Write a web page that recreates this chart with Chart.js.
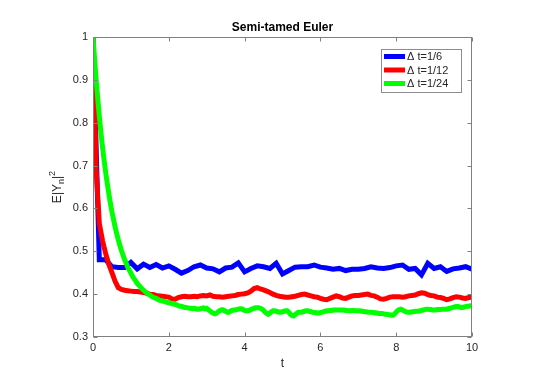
<!DOCTYPE html>
<html>
<head>
<meta charset="utf-8">
<script src="https://cdn.jsdelivr.net/npm/chart.js@4/dist/chart.umd.min.js"></script>
<style>
  body { margin: 0; background: #ffffff; }
  canvas { display: block; }
</style>
</head>
<body>
<canvas id="eulerChart" width="548" height="387"></canvas>
<script>
// series labels, time steps and colours
const seriesLabels = ["\u0394 t=1/6", "\u0394 t=1/12", "\u0394 t=1/24"];
const stepSizes = [1 / 6, 1 / 12, 1 / 24];
const seriesColors = ["#0000ff", "#ff0000", "#00ff00"];

// tick labels
const xTicks = [0, 2, 4, 6, 8, 10];
const yTicks = [0.3, 0.4, 0.5, 0.6, 0.7, 0.8, 0.9, 1];

// E|Y_n|^2, one value per time step
const blueValues = [
    1.0, 0.48, 0.48, 0.464, 0.462, 0.462,
    0.474, 0.459, 0.470, 0.462, 0.469, 0.461,
    0.466, 0.458, 0.449, 0.455, 0.464, 0.468,
    0.461, 0.459, 0.452, 0.461, 0.463, 0.473,
    0.452, 0.460, 0.466, 0.464, 0.460, 0.472,
    0.447, 0.455, 0.463, 0.464, 0.464, 0.468,
    0.463, 0.461, 0.458, 0.460, 0.455, 0.458,
    0.458, 0.460, 0.464, 0.461, 0.460, 0.462,
    0.466, 0.468, 0.458, 0.460, 0.445, 0.472,
    0.460, 0.464, 0.453, 0.459, 0.461, 0.464,
    0.458
];

const redValues = [
    1.0, 0.69, 0.565, 0.525, 0.495, 0.47, 0.45, 0.43, 0.415, 0.411, 0.409, 0.408,
    0.407, 0.406, 0.406, 0.405, 0.404, 0.402, 0.400, 0.399, 0.397, 0.396, 0.395, 0.394,
    0.393, 0.389, 0.388, 0.392, 0.394, 0.395, 0.394, 0.394, 0.395, 0.394, 0.396, 0.397,
    0.396, 0.398, 0.395, 0.394, 0.394, 0.393, 0.394, 0.395, 0.396, 0.397, 0.399, 0.400,
    0.401, 0.403, 0.407, 0.413, 0.415, 0.412, 0.410, 0.407, 0.404, 0.400, 0.397, 0.395,
    0.394, 0.393, 0.393, 0.394, 0.395, 0.397, 0.399, 0.400, 0.398, 0.396, 0.394, 0.393,
    0.390, 0.388, 0.387, 0.390, 0.393, 0.396, 0.394, 0.391, 0.390, 0.393, 0.396, 0.397,
    0.397, 0.398, 0.399, 0.400, 0.397, 0.396, 0.393, 0.389, 0.388, 0.390, 0.393, 0.394,
    0.394, 0.394, 0.393, 0.394, 0.396, 0.397, 0.398, 0.401, 0.403, 0.402, 0.399, 0.397,
    0.396, 0.393, 0.392, 0.390, 0.387, 0.389, 0.392, 0.394, 0.393, 0.391, 0.390, 0.392,
    0.393
];

const greenValues = [
    1.000, 0.948, 0.900, 0.856, 0.815, 0.778, 0.744, 0.713, 0.685, 0.659, 0.635, 0.612,
    0.592, 0.574, 0.557, 0.541, 0.527, 0.514, 0.502, 0.491, 0.481, 0.472, 0.463, 0.456,
    0.449, 0.442, 0.436, 0.431, 0.425, 0.421, 0.417, 0.413, 0.409, 0.406, 0.403, 0.400,
    0.398, 0.395, 0.393, 0.391, 0.390, 0.388, 0.386, 0.385, 0.384, 0.383, 0.382, 0.381,
    0.380, 0.379, 0.378, 0.377, 0.376, 0.375, 0.373, 0.372, 0.372, 0.370, 0.369, 0.369,
    0.368, 0.367, 0.367, 0.366, 0.367, 0.366, 0.365, 0.365, 0.366, 0.367, 0.368, 0.366,
    0.367, 0.364, 0.361, 0.358, 0.356, 0.354, 0.355, 0.358, 0.361, 0.363, 0.364, 0.362,
    0.360, 0.358, 0.358, 0.360, 0.362, 0.363, 0.363, 0.364, 0.365, 0.366, 0.366, 0.364,
    0.362, 0.361, 0.361, 0.362, 0.364, 0.366, 0.367, 0.368, 0.368, 0.368, 0.367, 0.365,
    0.362, 0.358, 0.355, 0.353, 0.356, 0.359, 0.361, 0.361, 0.360, 0.359, 0.358, 0.358,
    0.359, 0.360, 0.361, 0.361, 0.358, 0.353, 0.350, 0.349, 0.352, 0.355, 0.358, 0.358,
    0.358, 0.359, 0.360, 0.361, 0.361, 0.360, 0.359, 0.358, 0.357, 0.357, 0.356, 0.356,
    0.357, 0.358, 0.359, 0.360, 0.361, 0.361, 0.362, 0.362, 0.363, 0.363, 0.363, 0.363,
    0.363, 0.363, 0.363, 0.363, 0.362, 0.362, 0.361, 0.361, 0.362, 0.362, 0.361, 0.361,
    0.361, 0.361, 0.360, 0.360, 0.359, 0.359, 0.358, 0.358, 0.358, 0.357, 0.357, 0.356,
    0.356, 0.355, 0.355, 0.355, 0.354, 0.353, 0.353, 0.352, 0.352, 0.351, 0.351, 0.354,
    0.358, 0.362, 0.364, 0.365, 0.363, 0.361, 0.359, 0.358, 0.358, 0.358, 0.359, 0.359,
    0.360, 0.360, 0.360, 0.361, 0.362, 0.363, 0.364, 0.365, 0.365, 0.364, 0.364, 0.363,
    0.363, 0.363, 0.364, 0.364, 0.364, 0.365, 0.365, 0.365, 0.365, 0.366, 0.367, 0.368,
    0.369, 0.370, 0.371, 0.371, 0.370, 0.369, 0.369, 0.370, 0.371, 0.372, 0.372, 0.373,
    0.373
];

const allValues = [blueValues, redValues, greenValues];

const FONT = '"Liberation Sans", Arial, Helvetica, sans-serif';
const AXIS_GRAY = "#808080";
const TEXT_COLOR = "#262626";

// pair each value with its time t = i * dt
function toPoints(values, dt) {
    return values.map((v, i) => ({ x: i * dt, y: v }));
}

// MATLAB-like frame: box, inward ticks, title, axis labels, legend
const matlabFrame = {
    id: "matlabFrame",
    afterDraw(chart) {
        const ctx = chart.ctx;
        const area = chart.chartArea;
        const xs = chart.scales.x;
        const ys = chart.scales.y;
        const L = Math.round(area.left) + 0.5;
        const R = Math.round(area.right) - 0.5;
        const T = Math.round(area.top) + 0.5;
        const B = Math.round(area.bottom) - 0.5;
        const tick = 4;

        ctx.save();
        ctx.strokeStyle = AXIS_GRAY;
        ctx.lineWidth = 1;
        ctx.strokeRect(L, T, R - L, B - T);

        ctx.beginPath();
        xTicks.forEach(t => {
            const px = Math.round(xs.getPixelForValue(t)) + 0.5;
            ctx.moveTo(px, B); ctx.lineTo(px, B - tick);
            ctx.moveTo(px, T); ctx.lineTo(px, T + tick);
        });
        yTicks.forEach(v => {
            const py = Math.round(ys.getPixelForValue(v)) + 0.5;
            ctx.moveTo(L, py); ctx.lineTo(L + tick, py);
            ctx.moveTo(R, py); ctx.lineTo(R - tick, py);
        });
        ctx.stroke();

        // title
        ctx.fillStyle = "#000000";
        ctx.font = "bold 12px " + FONT;
        ctx.textAlign = "center";
        ctx.textBaseline = "middle";
        ctx.fillText("Semi-tamed Euler", (area.left + area.right) / 2, 28);

        // x label
        ctx.fillStyle = TEXT_COLOR;
        ctx.font = "12px " + FONT;
        ctx.fillText("t", (area.left + area.right) / 2, 364);

        // y label E|Y_n|^2, rotated
        ctx.save();
        ctx.translate(61, (area.top + area.bottom) / 2);
        ctx.rotate(-Math.PI / 2);
        ctx.textAlign = "left";
        ctx.textBaseline = "alphabetic";
        const parts = [
            { s: "E|Y", size: 12, dy: 0 },
            { s: "n", size: 9, dy: 3 },
            { s: "|", size: 12, dy: 0 },
            { s: "2", size: 9, dy: -6 }
        ];
        let total = 0;
        parts.forEach(p => {
            ctx.font = p.size + "px " + FONT;
            p.w = ctx.measureText(p.s).width;
            total += p.w;
        });
        let cx = -total / 2;
        parts.forEach(p => {
            ctx.font = p.size + "px " + FONT;
            ctx.fillText(p.s, cx, p.dy);
            cx += p.w;
        });
        ctx.restore();

        // legend
        const lx = 381, ly = 49, lw = 80, lh = 43;
        ctx.fillStyle = "#ffffff";
        ctx.fillRect(lx, ly, lw, lh);
        ctx.strokeStyle = "#8c8c8c";
        ctx.strokeRect(lx + 0.5, ly + 0.5, lw, lh);
        ctx.font = "11px " + FONT;
        ctx.textAlign = "left";
        ctx.textBaseline = "middle";
        chart.data.datasets.forEach((ds, i) => {
            const ry = 56.5 + i * 13.5;
            ctx.strokeStyle = ds.borderColor;
            ctx.lineWidth = 5;
            ctx.beginPath();
            ctx.moveTo(384, ry);
            ctx.lineTo(405, ry);
            ctx.stroke();
            ctx.fillStyle = TEXT_COLOR;
            ctx.fillText(ds.label, 407, ry + 0.5);
        });
        ctx.restore();
    }
};

const datasets = allValues.map((values, i) => ({
    label: seriesLabels[i],
    data: toPoints(values, stepSizes[i]),
    borderColor: seriesColors[i],
    backgroundColor: seriesColors[i],
    borderWidth: 5,
    pointRadius: 0,
    tension: 0,
    fill: false,
    order: 2 - i   // green drawn last, on top
}));

new Chart(document.getElementById("eulerChart"), {
    type: "line",
    data: { datasets: datasets },
    options: {
        responsive: false,
        animation: false,
        layout: { padding: { left: 0, right: 76, top: 37, bottom: 0 } },
        plugins: {
            legend: { display: false },
            title: { display: false },
            tooltip: { enabled: false }
        },
        scales: {
            x: {
                type: "linear",
                min: 0,
                max: 10,
                afterFit(scale) { scale.height = 50; },
                afterBuildTicks(scale) { scale.ticks = xTicks.map(v => ({ value: v })); },
                grid: { display: false, drawTicks: false },
                border: { display: false },
                ticks: {
                    padding: 4,
                    color: TEXT_COLOR,
                    font: { family: FONT, size: 11 },
                    maxRotation: 0,
                    callback: v => String(v)
                }
            },
            y: {
                type: "linear",
                min: 0.3,
                max: 1,
                afterFit(scale) { scale.width = 93; },
                afterBuildTicks(scale) { scale.ticks = yTicks.map(v => ({ value: v })); },
                grid: { display: false, drawTicks: false },
                border: { display: false },
                ticks: {
                    padding: 5,
                    color: TEXT_COLOR,
                    font: { family: FONT, size: 11 },
                    callback: v => String(Number(v.toFixed(1)))
                }
            }
        }
    },
    plugins: [matlabFrame]
});
</script>
</body>
</html>
